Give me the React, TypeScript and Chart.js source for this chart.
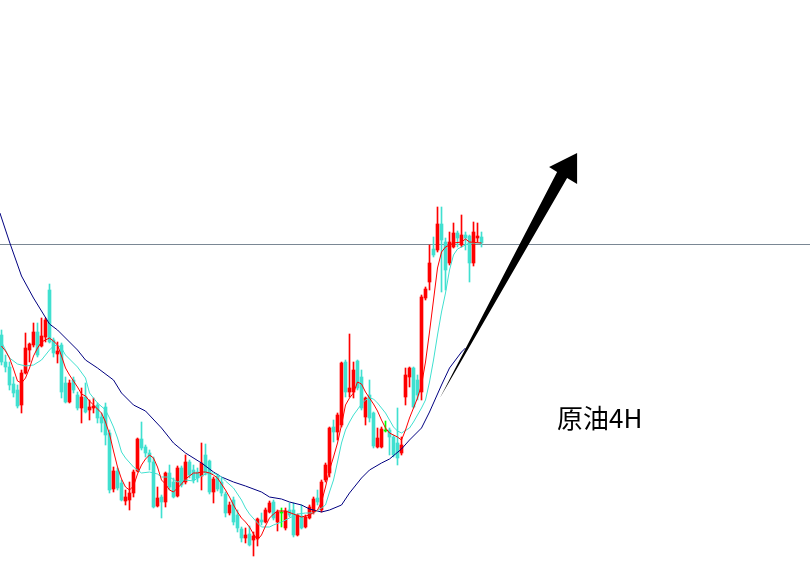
import React, { useEffect, useRef } from 'react';
import { Chart, registerables } from 'chart.js';

Chart.register(...registerables);

// ---- Candle data (4H crude oil), one entry per bar ----
const opens = [
  66.5, 63.8, 63.3, 61.6, 61.0, 59.5, 62.7, 65.0, 65.5, 66.8,
  65.4, 66.3, 71.0, 66.0, 64.6, 65.5, 61.7, 59.8, 62.0, 60.5,
  59.2, 60.3, 59.0, 59.2, 59.5, 58.3, 59.3, 56.7, 51.1, 52.9,
  51.7, 49.9, 50.0, 50.7, 52.9, 56.1, 55.3, 54.7, 53.8, 49.4,
  50.3, 49.8, 52.7, 51.8, 50.4, 53.2, 51.8, 53.8, 53.0, 52.8,
  52.4, 54.5, 53.9, 50.8, 52.4, 51.8, 50.6, 48.7, 50.0, 48.5,
  47.1, 46.2, 46.6, 46.0, 46.2, 48.0, 47.8, 48.8, 49.8, 47.8,
  48.8, 47.2, 49.0, 49.0, 46.5, 48.4, 47.3, 48.2, 48.8, 50.2,
  49.0, 52.0, 52.7, 57.3, 56.8, 57.5, 63.8, 60.8, 60.8, 63.9,
  62.3, 58.3, 60.5, 58.7, 55.3, 55.3, 57.0, 57.0, 56.3, 55.7,
  54.7, 60.3, 62.3, 63.2, 62.0, 60.8, 70.2, 71.8, 75.1, 75.0,
  77.6, 75.8, 73.7, 75.3, 76.7, 75.5, 76.5, 76.4, 73.7, 76.2,
  76.3,
];
const closes = [
  63.8, 63.3, 61.5, 60.7, 59.4, 62.7, 65.2, 65.6, 66.8, 64.5,
  66.4, 68.0, 65.8, 64.7, 64.9, 60.8, 59.8, 61.7, 61.0, 59.2,
  60.3, 58.8, 59.3, 59.4, 58.2, 57.7, 56.5, 51.0, 52.9, 51.2,
  50.0, 50.3, 50.7, 52.8, 56.1, 55.2, 54.7, 53.8, 49.3, 50.2,
  49.8, 52.7, 51.3, 50.3, 53.2, 51.5, 53.8, 52.5, 52.0, 52.2,
  53.7, 52.7, 50.8, 52.1, 51.1, 50.7, 48.7, 49.5, 47.8, 47.2,
  46.2, 46.5, 45.5, 46.4, 48.1, 47.8, 49.0, 49.7, 48.2, 48.8,
  48.8, 48.9, 48.5, 46.5, 48.5, 47.2, 48.3, 49.3, 50.1, 49.8,
  51.8, 53.5, 57.2, 56.8, 58.5, 63.7, 60.8, 61.2, 63.0, 61.2,
  59.2, 60.2, 58.2, 55.4, 56.2, 57.1, 57.0, 56.3, 54.5, 54.2,
  55.5, 62.5, 63.2, 59.3, 60.5, 70.3, 71.1, 73.7, 74.5, 77.6,
  76.0, 73.0, 75.8, 76.7, 76.2, 76.5, 76.2, 73.7, 76.8, 76.4,
  75.7,
];
const highs = [
  67.0, 64.5, 63.8, 62.3, 61.5, 63.0, 66.7, 65.7, 67.7, 67.7,
  68.2, 68.2, 71.6, 66.2, 65.8, 65.7, 62.3, 62.0, 62.3, 60.8,
  61.2, 61.7, 60.0, 60.2, 59.7, 58.7, 59.7, 57.0, 53.3, 53.2,
  52.0, 51.0, 51.8, 53.0, 56.2, 57.8, 55.5, 55.0, 54.3, 51.3,
  50.5, 52.8, 53.5, 52.2, 53.4, 53.4, 54.5, 54.0, 53.5, 53.2,
  55.7, 55.6, 54.0, 52.3, 52.6, 52.2, 50.8, 49.8, 50.3, 49.0,
  47.3, 47.2, 47.4, 46.8, 48.2, 48.7, 49.2, 49.9, 50.0, 49.0,
  49.2, 49.2, 49.7, 49.7, 48.6, 49.5, 48.5, 49.5, 50.3, 51.0,
  52.0, 53.7, 57.3, 58.0, 58.7, 63.8, 64.0, 66.6, 63.8, 64.0,
  63.0, 60.3, 62.0, 58.8, 57.2, 57.3, 57.9, 57.2, 56.5, 59.2,
  56.3, 63.2, 63.3, 63.3, 62.5, 70.5, 71.3, 75.5, 76.3, 79.3,
  79.3, 76.2, 76.8, 77.7, 76.9, 78.5, 76.8, 76.5, 77.8, 77.7,
  76.8,
];
const lows = [
  63.5, 62.8, 61.0, 60.3, 59.2, 58.7, 62.6, 63.8, 65.3, 64.3,
  65.3, 65.8, 65.7, 64.3, 63.7, 60.2, 59.7, 59.7, 60.7, 59.0,
  57.7, 58.7, 58.0, 58.7, 57.7, 56.8, 55.5, 50.7, 50.8, 51.0,
  49.9, 49.5, 49.0, 50.3, 52.8, 55.0, 54.3, 53.0, 49.2, 49.3,
  48.2, 49.3, 51.0, 50.2, 50.3, 51.3, 51.6, 52.2, 51.7, 51.8,
  51.0, 52.5, 50.6, 49.7, 50.9, 50.4, 48.3, 48.5, 47.5, 46.8,
  45.8, 45.7, 45.4, 44.4, 45.4, 47.5, 47.7, 48.7, 48.0, 46.9,
  47.3, 47.0, 48.3, 46.3, 46.4, 47.1, 47.2, 48.1, 48.6, 49.5,
  48.8, 51.8, 52.3, 55.8, 56.0, 57.3, 60.3, 60.3, 60.2, 61.0,
  59.0, 57.5, 57.8, 55.2, 55.2, 55.2, 56.8, 54.5, 54.3, 53.5,
  54.5, 59.5, 61.3, 59.2, 60.0, 60.0, 70.0, 71.0, 74.3, 74.8,
  70.8, 71.0, 73.5, 75.2, 75.3, 75.3, 75.0, 71.8, 73.4, 75.8,
  75.3,
];

// ---- Moving averages: [bar index, value] ----
const maShort: [number, number][] = [
  [0, 65.4], [1, 64.9], [2, 64.2], [3, 63.1], [4, 61.9], [5, 61.7], [6, 62.2], [7, 63.2], [8, 64.4], [9, 65.2],
  [10, 65.8], [11, 66.0], [12, 66.2], [13, 65.9], [14, 65.5], [15, 64.4], [16, 63.2], [17, 62.5], [18, 61.9], [19, 61.3],
  [20, 60.6], [21, 60.4], [22, 59.9], [23, 59.5], [24, 59.1], [25, 58.7], [26, 57.8], [27, 56.6], [28, 54.9], [29, 53.3],
  [30, 52.1], [31, 51.3], [32, 51.0], [33, 51.4], [34, 52.6], [35, 53.5], [36, 54.1], [37, 54.5], [38, 54.2], [39, 53.3],
  [40, 52.0], [41, 51.6], [42, 51.0], [43, 50.8], [44, 51.2], [45, 51.6], [46, 52.1], [47, 52.4], [48, 52.7], [49, 52.7],
  [50, 52.8], [51, 52.8], [52, 52.7], [53, 52.5], [54, 52.2], [55, 51.6], [56, 51.0], [57, 50.3], [58, 49.5], [59, 48.8],
  [60, 48.2], [61, 47.8], [62, 47.3], [63, 46.6], [64, 46.0], [65, 46.5], [66, 47.4], [67, 48.2], [68, 48.6], [69, 48.9],
  [71, 48.9], [73, 48.6], [75, 48.3], [77, 48.5], [79, 49.0], [80, 49.8], [81, 51.3], [82, 53.0], [83, 54.3], [84, 55.7],
  [85, 57.5], [86, 59.5], [87, 60.2], [88, 60.7], [89, 61.8], [90, 61.6], [91, 60.8], [92, 60.2], [93, 59.6], [94, 58.9],
  [95, 58.0], [96, 57.2], [97, 56.7], [98, 56.5], [99, 56.3], [100, 56.0], [101, 57.0], [102, 58.2], [103, 59.2], [104, 60.2],
  [105, 61.5], [106, 63.8], [107, 66.8], [108, 70.0], [109, 73.2], [110, 74.8], [111, 75.3], [112, 75.5], [113, 75.7], [115, 75.8],
  [116, 76.1], [117, 75.8], [120, 75.7],
];
const maMid: [number, number][] = [
  [0, 65.8], [2, 64.2], [4, 63.6], [6, 63.4], [8, 63.5], [10, 64.0], [12, 65.0], [13, 65.4], [14, 65.5], [15, 65.2],
  [16, 64.5], [18, 63.7], [19, 63.3], [21, 62.2], [22, 60.7], [24, 59.7], [26, 59.0], [27, 58.2], [28, 57.3], [29, 56.2],
  [30, 54.8], [31, 54.2], [33, 53.3], [35, 52.7], [37, 52.8], [39, 52.6], [40, 52.3], [42, 52.3], [44, 51.8], [46, 52.0],
  [48, 51.9], [49, 52.2], [51, 52.6], [53, 52.7], [55, 52.3], [56, 51.9], [58, 51.2], [60, 50.0], [61, 49.2], [62, 48.6],
  [64, 47.7], [65, 47.3], [67, 47.3], [68, 47.5], [70, 47.8], [72, 48.2], [74, 48.6], [76, 48.7], [78, 48.7], [80, 49.2],
  [81, 49.5], [82, 50.8], [83, 52.0], [84, 53.8], [85, 55.7], [86, 57.0], [87, 57.8], [88, 58.5], [90, 59.6], [91, 60.0],
  [92, 60.2], [93, 60.1], [94, 59.7], [96, 58.7], [98, 57.3], [99, 56.9], [100, 56.7], [102, 57.2], [103, 57.8], [104, 58.5],
  [105, 59.2], [106, 60.0], [107, 61.8], [108, 64.0], [109, 66.5], [110, 68.8], [111, 70.7], [112, 73.0], [113, 74.5], [114, 75.1],
  [115, 75.3], [117, 75.7], [120, 75.7],
];
const maLong: [number, number][] = [
  [-0.4, 78.7], [2, 75.8], [5, 72.4], [8, 70.2], [10, 68.9], [12, 67.6], [14, 67.0], [16, 66.2], [19, 65.0], [21, 64.0],
  [24, 63.2], [28, 62.0], [30, 60.7], [33, 59.5], [36, 58.9], [40, 57.2], [43, 55.7], [46, 54.7], [50, 53.7], [53, 52.8],
  [55, 52.3], [58, 51.8], [61, 51.4], [65, 50.8], [67, 50.3], [70, 50.1], [72, 49.8], [75, 49.5], [77, 49.1], [80, 48.8],
  [82, 49.0], [85, 49.5], [87, 50.7], [90, 52.2], [92, 53.0], [95, 53.7], [97, 54.1], [100, 55.1], [102, 56.0], [105, 57.2],
  [107, 58.8], [110, 61.5], [112, 63.2], [115, 64.8], [116, 65.2],
];

// ---- Annotations ----
const refLevel = 75.55;
const arrowIdx = [109.6, 138.9, 136.9, 143.9, 143.9, 141.4];
const arrowPrice = [60.2, 82.8, 83.3, 84.7, 81.6, 82.2];
const labelText = '原油4H';
const labelIdx = 138.9;
const labelPrice = 58.2;

const X_MIN = -0.375;
const X_MAX = 202.125;
const Y_MIN = 43.6;
const Y_MAX = 100;

const RED = '#ff0000';
const CYAN = '#40e0d0';
const LIME = '#00ff00';
const NAVY = '#000080';

const overlayPlugin = {
  id: 'overlay',
  afterDatasetsDraw(chart: any) {
    const { ctx } = chart;
    const xs = chart.scales.x;
    const ys = chart.scales.y;
    ctx.save();
    ctx.beginPath();
    arrowIdx.forEach((v, k) => {
      const px = xs.getPixelForValue(v);
      const py = ys.getPixelForValue(arrowPrice[k]);
      if (k === 0) ctx.moveTo(px, py);
      else ctx.lineTo(px, py);
    });
    ctx.closePath();
    ctx.fillStyle = '#000';
    ctx.fill();
    ctx.font = '26px "Noto Sans CJK SC", "Noto Sans", sans-serif';
    ctx.fillStyle = '#000';
    ctx.textAlign = 'left';
    ctx.textBaseline = 'middle';
    ctx.fillText(labelText, xs.getPixelForValue(labelIdx), ys.getPixelForValue(labelPrice));
    ctx.restore();
  },
};

export default function App() {
  const canvasRef = useRef<HTMLCanvasElement | null>(null);

  useEffect(() => {
    if (!canvasRef.current) return;
    const idx = opens.map((_, i) => i);
    const colorOf = (i: number) =>
      closes[i] > opens[i] ? RED : closes[i] < opens[i] ? CYAN : LIME;
    const body = (i: number) =>
      opens[i] === closes[i]
        ? [opens[i] - 0.1, opens[i]]
        : [Math.min(opens[i], closes[i]), Math.max(opens[i], closes[i])];
    const colors = idx.map(colorOf);

    const chart = new Chart(canvasRef.current, {
      type: 'bar',
      data: {
        datasets: [
          {
            type: 'line',
            label: 'level',
            data: [
              { x: X_MIN, y: refLevel },
              { x: X_MAX, y: refLevel },
            ],
            borderColor: '#7a8794',
            borderWidth: 1,
            pointRadius: 0,
            order: 10,
          },
          {
            type: 'line',
            label: 'MA long',
            data: maLong.map(([i, v]) => ({ x: i, y: v })),
            borderColor: NAVY,
            borderWidth: 1,
            pointRadius: 0,
            tension: 0,
            order: 3,
          },
          {
            type: 'line',
            label: 'MA mid',
            data: maMid.map(([i, v]) => ({ x: i, y: v })),
            borderColor: CYAN,
            borderWidth: 1,
            pointRadius: 0,
            tension: 0,
            order: 2,
          },
          {
            type: 'line',
            label: 'MA short',
            data: maShort.map(([i, v]) => ({ x: i, y: v })),
            borderColor: RED,
            borderWidth: 1,
            pointRadius: 0,
            tension: 0,
            order: 1,
          },
          {
            type: 'bar',
            label: 'body',
            data: idx.map((i) => ({ x: i, y: body(i) })),
            backgroundColor: colors,
            barThickness: 3,
            grouped: false,
            borderWidth: 0,
            order: 5,
          },
          {
            type: 'bar',
            label: 'wick',
            data: idx.map((i) => ({ x: i, y: [lows[i], highs[i]] })),
            backgroundColor: colors,
            barThickness: 1,
            grouped: false,
            borderWidth: 0,
            order: 6,
          },
        ] as any,
      },
      options: {
        animation: false,
        responsive: true,
        maintainAspectRatio: false,
        layout: { padding: 0 },
        plugins: {
          legend: { display: false },
          tooltip: { enabled: false },
        },
        scales: {
          x: { type: 'linear', min: X_MIN, max: X_MAX, display: false, offset: false },
          y: { type: 'linear', min: Y_MIN, max: Y_MAX, display: false },
        },
      },
      plugins: [overlayPlugin],
    });
    return () => chart.destroy();
  }, []);

  return (
    <div
      style={{
        position: 'absolute',
        left: 0,
        top: 0,
        width: 810,
        height: 564,
        background: '#fff',
      }}
    >
      <canvas ref={canvasRef} />
    </div>
  );
}
